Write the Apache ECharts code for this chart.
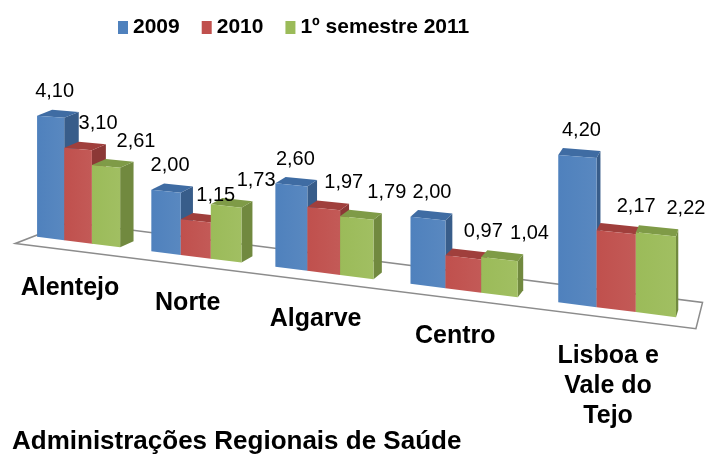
<!DOCTYPE html>
<html>
<head>
<meta charset="utf-8">
<script src="https://cdn.jsdelivr.net/npm/echarts@6/dist/echarts.min.js"></script>
<style>
html, body { margin: 0; padding: 0; background: #fff; }
#chart { width: 710px; height: 454px; }
</style>
</head>
<body>
<div id="chart"></div>
<script>
'use strict'
var categories = ['Alentejo', 'Norte', 'Algarve', 'Centro', 'Lisboa e\nVale do\nTejo'];
var seriesNames = ['2009', '2010', '1º semestre 2011'];
var values2009 = [4.10, 2.00, 2.60, 2.00, 4.20];
var values2010 = [3.10, 1.15, 1.97, 0.97, 2.17];
var values2011 = [2.61, 1.73, 1.79, 1.04, 2.22];
var axisTitle = 'Administrações Regionais de Saúde';

var fontFamily = '"Liberation Sans", Arial, sans-serif';
var frontColors = ['#4f81bd', '#c0504d', '#9bbb59'];
var darkColors = ['#3f6ca3', '#a03f3c', '#7f9b47'];
var sideColors = ['#385d8a', '#8c3836', '#71893f'];

// fake 3d: bars slide along a floor that recedes to the upper left
var barWidth = 0.245;
var barOffset = [-0.3675, -0.1225, 0.1225];
var labelShift = [4, 20, 30];
var persp = 0.04;
var floorSlope = 0.1257;

function project(api, u, v, d) {
    var o = api.coord([0, 0]);
    var p = api.coord([u, v]);
    var unit = api.size([1, 0])[0];
    var X = p[0] - o[0];
    var H = o[1] - p[1];
    var s = 1 / (1 - persp * X / unit);
    var x = o[0] + X * s;
    var y = o[1] + floorSlope * X * s - H * s;
    var dx = Math.max(1.5, 15 - 0.02 * (x - 40)) * d;
    var dy = -6 * s * d;
    return [x + dx, y + dy];
}

function fmt(v) {
    return v.toFixed(2).replace('.', ',');
}

function barRenderer(si) {
    return function (params, api) {
        var u0 = api.value(0) + barOffset[si];
        var u1 = u0 + barWidth;
        var v = api.value(1);
        var fb0 = project(api, u0, 0, 0), fb1 = project(api, u1, 0, 0);
        var ft0 = project(api, u0, v, 0), ft1 = project(api, u1, v, 0);
        var bb1 = project(api, u1, 0, 1);
        var bt0 = project(api, u0, v, 1), bt1 = project(api, u1, v, 1);
        return {
            type: 'group',
            children: [
                {
                    type: 'polygon',
                    shape: { points: [fb1, bb1, bt1, ft1] },
                    style: { fill: sideColors[si] }
                },
                {
                    type: 'polygon',
                    shape: { points: [ft0, ft1, bt1, bt0] },
                    style: { fill: darkColors[si] }
                },
                {
                    type: 'polygon',
                    shape: { points: [fb0, fb1, ft1, ft0] },
                    style: {
                        fill: new echarts.graphic.LinearGradient(0, 0, 1, 0, [
                            { offset: 0, color: frontColors[si] },
                            { offset: 1, color: echarts.color.lift(frontColors[si], 0.06) }
                        ])
                    }
                },
                {
                    type: 'text',
                    z2: 100,
                    style: {
                        text: fmt(v),
                        x: (ft0[0] + ft1[0]) / 2 + labelShift[si],
                        y: ft0[1] - 24,
                        align: 'center',
                        verticalAlign: 'middle',
                        font: '20px ' + fontFamily,
                        fill: '#000'
                    }
                }
            ]
        };
    };
}

function floorRenderer(params, api) {
    var uL = -0.4, uR = categories.length - 0.5;
    var pts = [
        project(api, uL, 0, -1.2),
        project(api, uR, 0, -1.2),
        project(api, uR, 0, 2.4),
        project(api, uL, 0, 2.4)
    ];
    return {
        type: 'polygon',
        shape: { points: pts },
        style: { fill: '#fff', stroke: '#8c8c8c', lineWidth: 1.5 }
    };
}

function categoryRenderer(params, api) {
    var i = api.value(0);
    var p = project(api, i, 0, 0);
    return {
        type: 'text',
        style: {
            text: categories[i],
            x: p[0] - 8,
            y: p[1] + 46 - 15,
            align: 'center',
            verticalAlign: 'top',
            font: 'bold 25px ' + fontFamily,
            lineHeight: 30,
            fill: '#000'
        }
    };
}

var allValues = [values2009, values2010, values2011];
var series = [{
    type: 'custom',
    coordinateSystem: 'cartesian2d',
    renderItem: floorRenderer,
    data: [[0, 0]],
    silent: true,
    z: 1
}];
allValues.forEach(function (vals, si) {
    series.push({
        name: seriesNames[si],
        type: 'custom',
        coordinateSystem: 'cartesian2d',
        renderItem: barRenderer(si),
        itemStyle: { color: frontColors[si] },
        encode: { x: 0, y: 1 },
        data: vals.map(function (v, i) { return [i, v]; }),
        z: 2
    });
});
series.push({
    type: 'custom',
    coordinateSystem: 'cartesian2d',
    renderItem: categoryRenderer,
    data: categories.map(function (c, i) { return [i, 0]; }),
    silent: true,
    z: 3
});

var chart = echarts.init(document.getElementById('chart'));

var option = {
    animation: false,
    backgroundColor: '#fff',
    title: {
        text: axisTitle,
        left: 7,
        top: 424,
        textStyle: {
            fontFamily: fontFamily,
            fontSize: 26,
            fontWeight: 'bold',
            color: '#000'
        }
    },
    legend: {
        data: seriesNames,
        left: 113,
        top: 12,
        icon: 'rect',
        itemWidth: 10,
        itemHeight: 13,
        itemGap: 22,
        textStyle: {
            fontFamily: fontFamily,
            fontSize: 21,
            fontWeight: 'bold',
            color: '#000'
        }
    },
    grid: {
        left: 21.5,
        right: 123.5,
        top: 92,
        bottom: 212
    },
    xAxis: {
        type: 'value',
        min: -0.5,
        max: 4.5,
        show: false
    },
    yAxis: {
        type: 'value',
        min: 0,
        max: 5,
        show: false
    },
    series: series
};

chart.setOption(option);
</script>
</body>
</html>
